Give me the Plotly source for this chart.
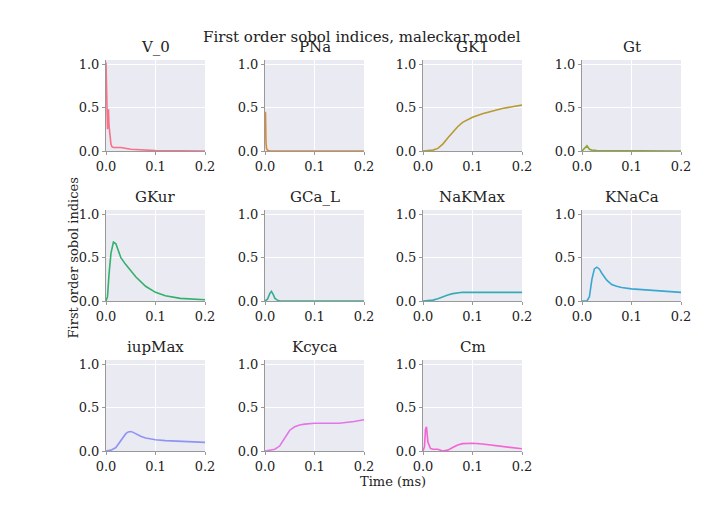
import plotly.graph_objects as go

names = ["V_0","PNa","GK1","Gt","GKur","GCa_L","NaKMax","KNaCa","iupMax","Kcyca","Cm"]
colors = ["#f77189","#dc8932","#b59b31","#8fa531","#33b06b","#35ae92","#37abb4","#39a7d0","#8f94f3","#e176e8","#f564d4"]

t_V_0 = [0,0.001,0.002,0.003,0.004,0.005,0.006,0.007,0.008,0.01,0.012,0.015,0.02,0.03,0.05,0.08,0.1,0.2]
v_V_0 = [1.02,0.8,0.3,0.25,0.45,0.48,0.3,0.25,0.15,0.08,0.05,0.04,0.04,0.04,0.02,0.01,0.005,0.0]
t_PNa = [0,0.001,0.002,0.003,0.005,0.01,0.2]
v_PNa = [0.45,0.44,0.1,0.03,0.01,0.0,0.0]
t_GK1 = [0,0.02,0.03,0.04,0.05,0.06,0.07,0.08,0.1,0.12,0.14,0.16,0.18,0.2]
v_GK1 = [0,0.01,0.03,0.08,0.15,0.22,0.28,0.33,0.39,0.43,0.46,0.49,0.51,0.53]
t_Gt = [0,0.005,0.01,0.015,0.02,0.03,0.2]
v_Gt = [0,0.03,0.06,0.02,0.01,0.005,0]
t_GKur = [0,0.003,0.006,0.01,0.015,0.02,0.025,0.03,0.04,0.05,0.06,0.08,0.1,0.12,0.15,0.2]
v_GKur = [0,0.05,0.3,0.55,0.68,0.66,0.58,0.5,0.42,0.35,0.28,0.17,0.1,0.06,0.03,0.015]
t_GCa_L = [0,0.005,0.01,0.013,0.017,0.02,0.025,0.03,0.2]
v_GCa_L = [0,0.02,0.09,0.11,0.07,0.03,0.01,0,0]
t_NaKMax = [0,0.01,0.02,0.03,0.04,0.05,0.06,0.07,0.08,0.1,0.15,0.2]
v_NaKMax = [0,0.002,0.01,0.025,0.05,0.07,0.085,0.095,0.1,0.1,0.1,0.1]
t_KNaCa = [0,0.01,0.015,0.02,0.025,0.03,0.035,0.04,0.05,0.06,0.07,0.08,0.1,0.12,0.15,0.2]
v_KNaCa = [0,0.0,0.05,0.25,0.37,0.39,0.37,0.32,0.24,0.19,0.17,0.155,0.14,0.13,0.12,0.1]
t_iupMax = [0,0.01,0.02,0.03,0.04,0.045,0.05,0.055,0.06,0.07,0.08,0.1,0.12,0.15,0.2]
v_iupMax = [0,0.01,0.04,0.12,0.2,0.22,0.225,0.215,0.2,0.17,0.15,0.13,0.12,0.11,0.1]
t_Kcyca = [0,0.02,0.03,0.04,0.05,0.06,0.07,0.08,0.1,0.12,0.15,0.18,0.2]
v_Kcyca = [0,0.02,0.06,0.15,0.24,0.28,0.3,0.31,0.32,0.32,0.32,0.34,0.36]
t_Cm = [0,0.003,0.005,0.007,0.01,0.015,0.02,0.03,0.04,0.05,0.06,0.07,0.08,0.09,0.1,0.12,0.15,0.18,0.2]
v_Cm = [0,0.05,0.25,0.28,0.1,0.03,0.02,0.02,0.0,0.01,0.04,0.07,0.085,0.09,0.09,0.08,0.06,0.04,0.025]

series = [(t_V_0,v_V_0),(t_PNa,v_PNa),(t_GK1,v_GK1),(t_Gt,v_Gt),(t_GKur,v_GKur),(t_GCa_L,v_GCa_L),
          (t_NaKMax,v_NaKMax),(t_KNaCa,v_KNaCa),(t_iupMax,v_iupMax),(t_Kcyca,v_Kcyca),(t_Cm,v_Cm)]

W, H = 708, 531
cols_px = [(98,197),(257,356),(415,514),(574,673)]
rows_px = [(52,143),(202,293),(352,443)]
font = "DejaVu Serif"

fig = go.Figure()
ann = []
for i, name in enumerate(names):
    r, c = divmod(i, 4)
    k = "" if i == 0 else str(i+1)
    x0, x1 = cols_px[c]; y0, y1 = rows_px[r]
    t, v = series[i]
    fig.add_trace(go.Scatter(x=t, y=v, mode="lines", line=dict(color=colors[i], width=1.6),
                             xaxis="x"+k, yaxis="y"+k, showlegend=False))
    fig.layout["xaxis"+k] = dict(domain=[x0/W, x1/W], anchor="y"+k, range=[0,0.2], automargin=False,
        tickvals=[0,0.1,0.2], ticktext=["0.0","0.1","0.2"], showgrid=True, gridcolor="white",
        zeroline=False, showline=True, linecolor="#999", ticks="outside", ticklen=3, tickcolor="#999")
    fig.layout["yaxis"+k] = dict(domain=[1-y1/H, 1-y0/H], anchor="x"+k, range=[0,1.05], automargin=False,
        tickvals=[0,0.5,1.0], ticktext=["0.0","0.5","1.0"], showgrid=True, gridcolor="white",
        zeroline=False, showline=True, linecolor="#999", ticks="outside", ticklen=3, tickcolor="#999")
    ann.append(dict(text=name, x=(x0+x1)/2/W, y=1-(y0-2)/H, xref="paper", yref="paper",
                    xanchor="center", yanchor="bottom", showarrow=False, font=dict(size=15)))

ann.append(dict(text="First order sobol indices, maleckar model", x=354/W, y=1-18/H, xref="paper", yref="paper",
                showarrow=False, font=dict(size=15)))
ann.append(dict(text="Time (ms)", x=385/W, y=1-483/H, xref="paper", yref="paper", showarrow=False, font=dict(size=13)))
ann.append(dict(text="First order sobol indices", x=55/W, y=1-250/H, xref="paper", yref="paper",
                showarrow=False, textangle=-90, font=dict(size=13)))

fig.update_layout(width=W, height=H, autosize=False, margin=dict(l=0,r=0,t=0,b=0,pad=0,autoexpand=False),
                  paper_bgcolor="white",
                  plot_bgcolor="#eaeaf2", font=dict(family=font, size=13, color="#222"), annotations=ann)
fig.write_html("out.html")
